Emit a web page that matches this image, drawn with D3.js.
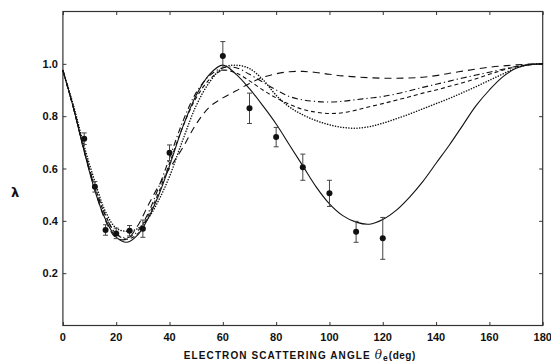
<!DOCTYPE html>
<html>
<head>
<meta charset="utf-8">
<script src="https://cdn.jsdelivr.net/npm/d3@7"></script>
<style>
  html,body{margin:0;padding:0;background:#fff;}
  svg{display:block;}
  .tick-lab{font-family:"Liberation Sans",Arial,sans-serif;font-size:11px;font-weight:bold;fill:#111;}
</style>
</head>
<body>
<div id="chart"></div>
<script>
// theory curves, sampled on a common angle grid
const theta = [0,4,8,12,16,20,24,28,32,36,40,45,50,55,60,65,70,75,80,85,90,95,100,105,110,115,120,125,130,135,140,145,150,155,160,165,170,175,180];
const solid = [.975,.83,.665,.515,.405,.338,.318,.345,.41,.5,.61,.76,.88,.96,.995,.96,.905,.84,.77,.69,.61,.53,.465,.42,.395,.387,.405,.44,.49,.55,.62,.69,.765,.84,.9,.95,.983,.997,1.0];
const longDash = [.975,.83,.665,.52,.4,.335,.33,.38,.46,.535,.6,.68,.77,.835,.87,.897,.925,.948,.962,.97,.971,.967,.96,.954,.95,.947,.945,.945,.946,.949,.955,.964,.972,.98,.987,.992,.996,.999,1.0];
const dashDot = [.975,.83,.67,.53,.42,.35,.335,.36,.43,.53,.64,.78,.89,.955,.985,.985,.96,.93,.9,.875,.862,.856,.854,.857,.863,.869,.875,.885,.897,.91,.922,.934,.946,.957,.968,.979,.99,.997,1.0];
const shortDash = [.975,.83,.67,.53,.42,.35,.33,.35,.42,.51,.62,.76,.87,.94,.975,.965,.935,.9,.87,.845,.826,.815,.81,.813,.823,.836,.848,.861,.874,.888,.9,.914,.928,.943,.96,.976,.989,.997,1.0];
const dotted = [.975,.84,.685,.55,.435,.372,.36,.37,.41,.48,.57,.71,.84,.93,.985,.995,.982,.94,.88,.835,.805,.783,.767,.757,.754,.76,.773,.79,.808,.828,.848,.868,.89,.913,.937,.961,.984,.997,1.0];

// measurements
const ptTheta = [8,12,16,20,25,30,40,60,70,80,90,100,110,120];
const ptVal   = [.714,.53,.365,.352,.362,.37,.66,1.03,.83,.72,.605,.505,.358,.333];
const ptErr   = [.022,.02,.02,.02,.02,.033,.03,.055,.058,.037,.05,.05,.04,.08];

const xTicks = [0,20,40,60,80,100,120,140,160,180];
const yTicks = [0.2,0.4,0.6,0.8,1.0];

const W=551, H=364;
const m={top:11.5,right:8.3,bottom:38.5,left:62.9};
const w=W-m.left-m.right, h=H-m.top-m.bottom;

const svg=d3.select('#chart').append('svg').attr('width',W).attr('height',H);
const g=svg.append('g').attr('transform',`translate(${m.left},${m.top})`);

const x=d3.scaleLinear().domain([0,180]).range([0,w]);
const y=d3.scaleLinear().domain([0,1.2]).range([h,0]);

// frame + inward ticks on all four sides
g.append('rect').attr('width',w).attr('height',h).attr('fill','none').attr('stroke','#333').attr('stroke-width',1.2);
const tk=3.5;
g.append('g').attr('transform',`translate(0,${h})`).call(d3.axisBottom(x).tickValues(xTicks).tickSize(-tk).tickFormat(''))
  .call(a=>a.select('.domain').remove()).call(a=>a.selectAll('line').attr('stroke','#333'));
g.append('g').call(d3.axisTop(x).tickValues(xTicks).tickSize(-tk).tickFormat(''))
  .call(a=>a.select('.domain').remove()).call(a=>a.selectAll('line').attr('stroke','#333'));
g.append('g').call(d3.axisLeft(y).tickValues(yTicks).tickSize(-tk).tickFormat(''))
  .call(a=>a.select('.domain').remove()).call(a=>a.selectAll('line').attr('stroke','#333'));
g.append('g').attr('transform',`translate(${w},0)`).call(d3.axisRight(y).tickValues(yTicks).tickSize(-tk).tickFormat(''))
  .call(a=>a.select('.domain').remove()).call(a=>a.selectAll('line').attr('stroke','#333'));

// tick labels
g.selectAll('.xl').data(xTicks).join('text').attr('class','tick-lab')
  .attr('x',d=>x(d)).attr('y',h+15).attr('text-anchor','middle').text(d=>d);
g.selectAll('.yl').data(yTicks).join('text').attr('class','tick-lab')
  .attr('x',-5).attr('y',d=>y(d)+4).attr('text-anchor','end').text(d=>d.toFixed(1));

// axis titles
const xt=g.append('text').attr('x',w/2-3).attr('y',h+33).attr('text-anchor','middle')
  .style('font-family','"Liberation Sans",Arial,sans-serif').style('font-size','10px').style('font-weight','bold')
  .style('letter-spacing','1.1px').attr('fill','#111');
xt.append('tspan').text('ELECTRON SCATTERING ANGLE ');
xt.append('tspan').style('font-family','"DejaVu Serif",serif').style('font-style','italic').style('font-weight','normal').style('font-size','12px').text('θ');
xt.append('tspan').attr('dy',2).style('font-size','8.5px').text('e');
xt.append('tspan').attr('dy',-2).style('letter-spacing','0.5px').text('(deg)');

svg.append('text').attr('x',15).attr('y',197).attr('text-anchor','middle')
  .style('font-family','"DejaVu Sans",sans-serif').style('font-size','13px').style('font-weight','bold')
  .attr('fill','#111').text('λ');

// curves
const line=d3.line().x(d=>x(d[0])).y(d=>y(d[1])).curve(d3.curveCatmullRom.alpha(0.5));
const curves=[
  {v:longDash, dash:'7,5', cap:'butt'},
  {v:dashDot, dash:'6,3,1.2,3', cap:'butt'},
  {v:shortDash, dash:'4,3', cap:'butt'},
  {v:dotted, dash:'0.1,2.6', cap:'round'},
  {v:solid, dash:null, cap:'butt'}
];
curves.forEach(c=>{
  g.append('path').datum(theta.map((t,i)=>[t,c.v[i]]))
    .attr('d',line).attr('fill','none').attr('stroke','#111')
    .attr('stroke-width',c.cap==='round'?1.5:1.1)
    .attr('stroke-linecap',c.cap)
    .attr('stroke-dasharray',c.dash);
});

// data points with error bars
const pts=ptTheta.map((t,i)=>({t,v:ptVal[i],e:ptErr[i]}));
const eb=g.selectAll('.eb').data(pts).join('g').attr('stroke','#444').attr('stroke-width',1);
eb.append('line').attr('x1',d=>x(d.t)).attr('x2',d=>x(d.t)).attr('y1',d=>y(d.v+d.e)).attr('y2',d=>y(d.v-d.e));
eb.append('line').attr('x1',d=>x(d.t)-2.5).attr('x2',d=>x(d.t)+2.5).attr('y1',d=>y(d.v+d.e)).attr('y2',d=>y(d.v+d.e));
eb.append('line').attr('x1',d=>x(d.t)-2.5).attr('x2',d=>x(d.t)+2.5).attr('y1',d=>y(d.v-d.e)).attr('y2',d=>y(d.v-d.e));
g.selectAll('.pt').data(pts).join('circle')
  .attr('cx',d=>x(d.t)).attr('cy',d=>y(d.v)).attr('r',3).attr('fill','#111');
</script>
</body>
</html>
